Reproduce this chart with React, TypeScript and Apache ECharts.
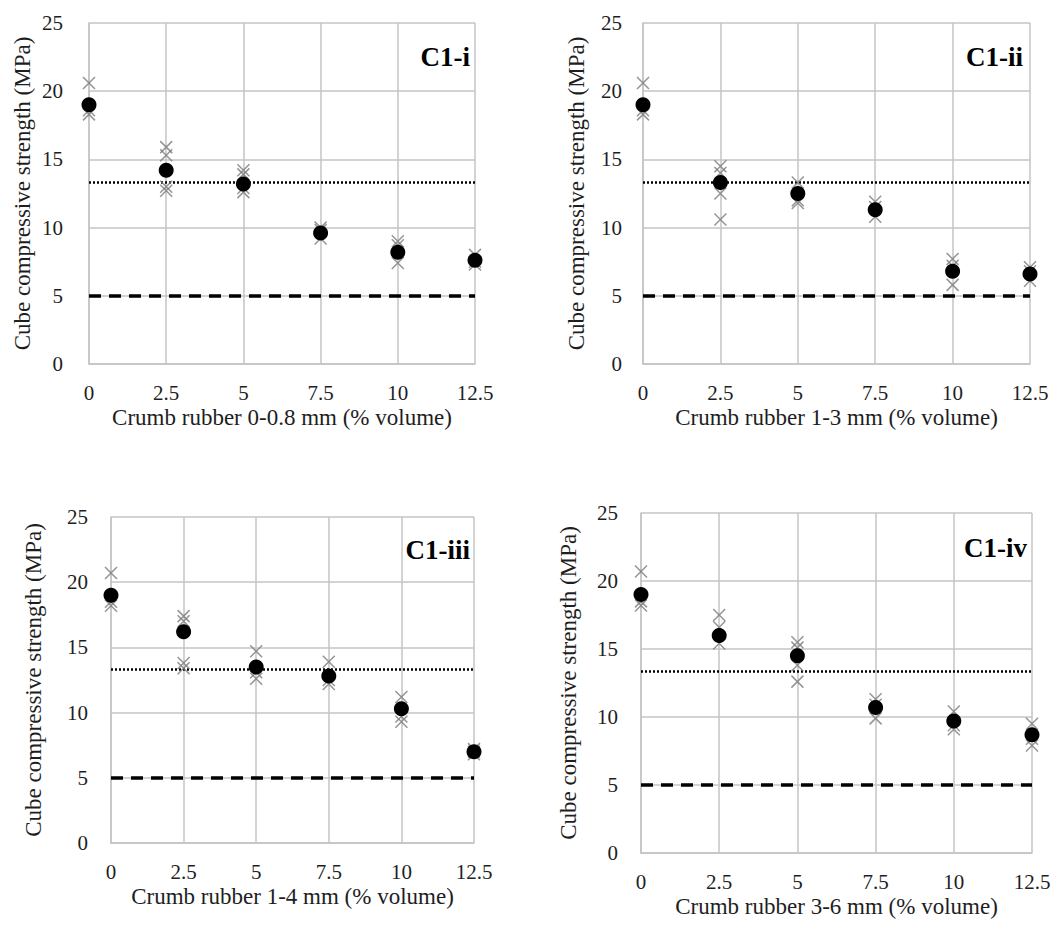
import React, { useEffect, useRef } from "react";
import * as echarts from "echarts";

// ---------- data ----------
const rubberContent = [0, 2.5, 5, 7.5, 10, 12.5];
const xTickLabels = ["0", "2.5", "5", "7.5", "10", "12.5"];

const panelTitles = ["C1-i", "C1-ii", "C1-iii", "C1-iv"];
const xAxisNames = [
  "Crumb rubber 0-0.8 mm (% volume)",
  "Crumb rubber 1-3 mm (% volume)",
  "Crumb rubber 1-4 mm (% volume)",
  "Crumb rubber 3-6 mm (% volume)",
];
const yAxisName = "Cube compressive strength (MPa)";

// mean strengths (filled circles)
const meanC1i = [19.0, 14.2, 13.2, 9.6, 8.2, 7.6];
const meanC1ii = [19.0, 13.3, 12.5, 11.3, 6.8, 6.6];
const meanC1iii = [19.0, 16.2, 13.5, 12.8, 10.3, 7.0];
const meanC1iv = [19.0, 16.0, 14.5, 10.7, 9.7, 8.7];

// individual cube results (crosses), one list per rubber content
const repsC1i = [
  [20.6, 18.3, 18.6],
  [15.9, 15.3, 13.0, 12.7],
  [14.2, 13.9, 12.9, 12.6],
  [10.0, 9.8, 9.2],
  [9.0, 8.7, 7.4],
  [8.0, 7.5, 7.3],
];
const repsC1ii = [
  [20.6, 18.3, 18.6],
  [14.5, 14.0, 12.5, 10.6],
  [13.3, 12.0, 11.8],
  [11.9, 11.5, 10.8],
  [7.7, 7.2, 5.8],
  [7.1, 6.8, 6.1],
];
const repsC1iii = [
  [20.7, 18.2, 18.5],
  [17.4, 17.0, 13.8, 13.4],
  [14.7, 13.1, 12.6],
  [13.9, 12.5, 12.2],
  [11.2, 9.7, 9.3],
  [7.2, 7.0, 6.8],
];
const repsC1iv = [
  [20.7, 18.2, 18.5],
  [17.5, 16.6, 15.4],
  [15.5, 15.1, 13.8, 12.6],
  [11.3, 10.9, 9.9],
  [10.4, 9.4, 9.1],
  [9.5, 8.4, 7.9],
];

const dottedReference = 13.33;
const dashedReference = 5;

const allMeans = [meanC1i, meanC1ii, meanC1iii, meanC1iv];
const allReps = [repsC1i, repsC1ii, repsC1iii, repsC1iv];

// ---------- layout ----------
const gridBoxes = [
  { left: 89, top: 23, width: 386, height: 341 },
  { left: 643, top: 23, width: 387, height: 341 },
  { left: 111, top: 517, width: 363, height: 326 },
  { left: 641, top: 513, width: 391, height: 340 },
];
const yNameGaps = [55, 55, 66, 61];
const yLabelMargins = [26, 21, 23, 23];
const titlePos = [
  { right: 586, top: 43 },
  { right: 33, top: 43 },
  { right: 586, top: 536 },
  { right: 29, top: 534 },
];

const FONT = "'Liberation Serif', 'Times New Roman', serif";
const TEXT = "#1e1e1e";
const GRID = "#c4c4c4";

export default function App() {
  const ref = useRef<HTMLDivElement>(null);

  useEffect(() => {
    if (!ref.current) return;
    const chart = echarts.init(ref.current, undefined, { renderer: "svg" });

    const grid = gridBoxes.map((g) => ({ ...g, containLabel: false }));

    const xAxis = gridBoxes.map((_, i) => ({
      type: "value",
      gridIndex: i,
      min: 0,
      max: 12.5,
      interval: 2.5,
      name: xAxisNames[i],
      nameLocation: "middle",
      nameGap: 42,
      nameTextStyle: { fontFamily: FONT, fontSize: 23, color: TEXT },
      axisLine: { show: true, lineStyle: { color: GRID, width: 1.5 } },
      axisTick: { show: false },
      axisLabel: {
        fontFamily: FONT,
        fontSize: 21,
        color: TEXT,
        margin: 18,
        formatter: (v: number) => {
          const idx = rubberContent.indexOf(v);
          return idx >= 0 ? xTickLabels[idx] : String(v);
        },
      },
      splitLine: { show: true, lineStyle: { color: GRID, width: 1.5 } },
    }));

    const yAxis = gridBoxes.map((_, i) => ({
      type: "value",
      gridIndex: i,
      min: 0,
      max: 25,
      interval: 5,
      name: yAxisName,
      nameLocation: "middle",
      nameRotate: 90,
      nameGap: yNameGaps[i],
      nameTextStyle: { fontFamily: FONT, fontSize: 23, color: TEXT },
      axisLine: { show: true, lineStyle: { color: GRID, width: 1.5 } },
      axisTick: { show: false },
      axisLabel: { fontFamily: FONT, fontSize: 21, color: TEXT, margin: yLabelMargins[i] },
      splitLine: { show: true, lineStyle: { color: GRID, width: 1.5 } },
    }));

    const series: any[] = [];
    gridBoxes.forEach((_, i) => {
      const repData: number[][] = [];
      allReps[i].forEach((vals, k) => {
        vals.forEach((v) => repData.push([rubberContent[k], v]));
      });
      series.push({
        type: "scatter",
        xAxisIndex: i,
        yAxisIndex: i,
        symbol: "path://M0 0L10 10M10 0L0 10",
        symbolSize: 12,
        itemStyle: { color: "transparent", borderColor: "#7a7a7a", borderWidth: 1.5 },
        data: repData,
        z: 3,
        silent: true,
      });
      series.push({
        type: "scatter",
        xAxisIndex: i,
        yAxisIndex: i,
        symbol: "circle",
        symbolSize: 15,
        itemStyle: { color: "#000", opacity: 1 },
        data: allMeans[i].map((m, k) => [rubberContent[k], m]),
        z: 4,
        silent: true,
        markLine: {
          silent: true,
          symbol: ["none", "none"],
          label: { show: false },
          z: 2,
          data: [
            { yAxis: dottedReference, lineStyle: { color: "#000", type: [2, 2], width: 2.5 } },
            { yAxis: dashedReference, lineStyle: { color: "#000", type: [12, 8], width: 3.5 } },
          ],
        },
      });
    });

    const title = panelTitles.map((t, i) => ({
      text: t,
      right: titlePos[i].right,
      top: titlePos[i].top,
      padding: 0,
      textStyle: { fontFamily: FONT, fontSize: 27, fontWeight: "bold", color: "#000" },
    }));

    chart.setOption({
      animation: false,
      backgroundColor: "#fff",
      title,
      grid,
      xAxis,
      yAxis,
      series,
    });

    return () => chart.dispose();
  }, []);

  return (
    <div
      ref={ref}
      style={{ position: "absolute", left: 0, top: 0, width: 1056, height: 932 }}
    />
  );
}
